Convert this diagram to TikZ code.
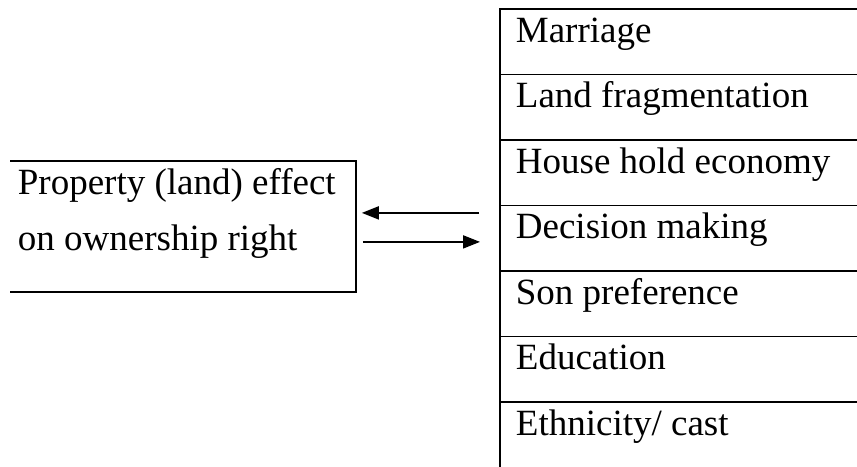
\documentclass[tikz,border=0pt]{standalone}
\usepackage{fontspec}
\setmainfont{Liberation Serif}
\usetikzlibrary{arrows.meta, positioning}

\begin{document}
\begin{tikzpicture}[x=1pt, y=-1pt, line width=1.8pt,
    every node/.style={font=\fontsize{37}{55}\selectfont, inner sep=0pt},
    label/.style={anchor=base west},
    row/.style={rectangle, minimum width=360pt, minimum height=65.5pt, anchor=north west},
    link/.style={-{Triangle[length=17pt, width=13pt]}}]
    \useasboundingbox (0,0) rectangle (857,466);

    % left box, open on its left side
    \node[rectangle, minimum width=344pt, minimum height=129pt, anchor=north west] at (10,161) (prop) {};
    \node[label] at (17,194) (prop-a) {Property (land) effect};
    \node[label] at (17,250) (prop-b) {on ownership right};
    \draw (prop.north west) -- (prop.north east) -- (prop.south east) -- (prop.south west);

    % right column
    \foreach \name/\txt [count=\i] in {mar/Marriage, frag/Land fragmentation, econ/House hold economy,
        dec/Decision making, son/Son preference, edu/Education, eth/{Ethnicity/ cast}} {
        \node[row] at (500, {9+65.5*(\i-1)}) (\name) {};
        \node[label] at (515, {42+65.5*(\i-1)}) (\name-t) {\txt};
        \draw (\name.north east) -- (\name.north west) -- (\name.south west);
    }

    \coordinate (back) at ([yshift=13.5pt]prop.east);
    \coordinate (fwd) at ([yshift=-15.5pt]prop.east);
    \draw[link, shorten <=21pt, shorten >=6pt] (back -| dec.west) -- (back);
    \draw[link, shorten <=7pt, shorten >=20pt] (fwd) -- (fwd -| dec.west);
\end{tikzpicture}
\end{document}
